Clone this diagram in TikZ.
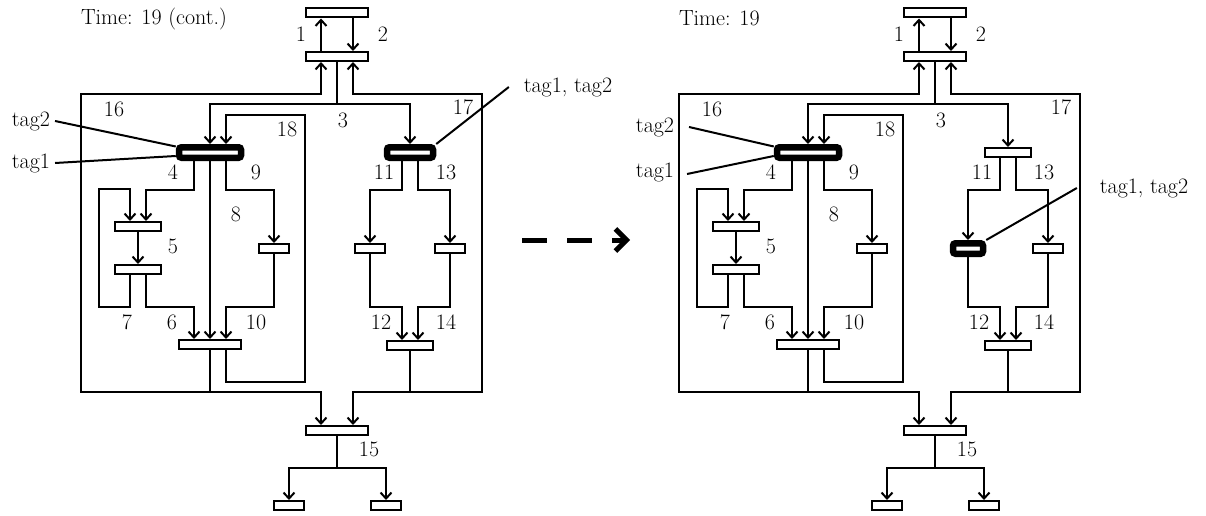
\documentclass[tikz,border=0pt]{standalone}
\usetikzlibrary{arrows.meta}
\begin{document}
\begin{tikzpicture}[
    x=1pt, y=-1pt,
    line width=2pt,
    every node/.style={font=\fontsize{22}{26}\selectfont},
    box/.style={draw,fill=white,line width=2pt,inner sep=0pt,minimum width=62pt,minimum height=9pt},
    midbox/.style={box,minimum width=46pt},
    smallbox/.style={box,minimum width=30pt},
    tagged/.style={line width=6.5pt,minimum height=10.5pt,rounded corners=2.5pt},
    untagged/.style={},
    lbl/.style={inner sep=0pt},
    tag/.style={inner sep=4pt},
    arr/.style={-{Straight Barb[length=6pt,width=11pt]}},
    twoway/.style={{Straight Barb[length=6pt,width=11pt]}-{Straight Barb[length=6pt,width=11pt]}},
    goarr/.style={-{Straight Barb[length=11pt,width=22pt]},line width=5pt,dash pattern=on 25pt off 20pt}
]
\useasboundingbox (0,0) rectangle (1206,516);
\foreach \p/\dx/\sa/\sb in {L/0/tagged/untagged,R/598/untagged/tagged}{
\begin{scope}[xshift=\dx pt]
\node[box] (\p-A) at (337,13) {};
\node[box] (\p-B) at (337,56.5) {};
\node[box,tagged] (\p-t4) at (210,152.5) {};
\node[midbox,\sa] (\p-t11) at (410,152.5) {};
\node[midbox] (\p-t5a) at (138,226.5) {};
\node[midbox] (\p-t5b) at (138,269.5) {};
\node[smallbox] (\p-t9) at (274,248.5) {};
\node[box] (\p-tj) at (210,344.5) {};
\node[smallbox,\sb] (\p-t11b) at (370,248.5) {};
\node[smallbox] (\p-t13b) at (450,248.5) {};
\node[midbox] (\p-tk) at (410,345.5) {};
\node[box] (\p-t15) at (337,430.5) {};
\node[smallbox] (\p-o1) at (289,505.5) {};
\node[smallbox] (\p-o2) at (386,505.5) {};
\node[lbl] (\p-n1) at (301,34) {1};
\node[lbl] (\p-n2) at (383,34) {2};
\node[lbl] (\p-n3) at (343,120) {3};
\node[lbl] (\p-n16) at (114,109) {16};
\node[lbl] (\p-n17) at (463,107) {17};
\node[lbl] (\p-n18) at (287,129) {18};
\node[lbl] (\p-n4) at (173,172) {4};
\node[lbl] (\p-n9) at (256,172) {9};
\node[lbl] (\p-n8) at (236,214) {8};
\node[lbl] (\p-n5) at (173,246) {5};
\node[lbl] (\p-n7) at (127,322) {7};
\node[lbl] (\p-n6) at (172,322) {6};
\node[lbl] (\p-n10) at (256,322) {10};
\node[lbl] (\p-n11) at (384,172) {11};
\node[lbl] (\p-n13) at (446,172) {13};
\node[lbl] (\p-n12) at (381,322) {12};
\node[lbl] (\p-n14) at (446,322) {14};
\node[lbl] (\p-n15) at (369,449) {15};
\draw[arr] ([xshift=-16pt]\p-B.north) -- ([xshift=-16pt]\p-A.south);
\draw[arr] ([xshift=16pt]\p-A.south) -- ([xshift=16pt]\p-B.north);
\coordinate (\p-c3) at (337,104);
\draw (\p-B.south) -- (\p-c3);
\draw[arr] (\p-c3) -| (\p-t4.north);
\draw[arr] (\p-c3) -| (\p-t11.north);
\draw[twoway] ([xshift=-16pt]\p-B.south) |- (81,94) -- (81,392) -| ([xshift=-16pt]\p-t15.north);
\draw[twoway] ([xshift=16pt]\p-B.south) |- (482,94) -- (482,392) -| ([xshift=16pt]\p-t15.north);
\draw (\p-tj.south) -- (210,392);
\draw (\p-tk.south) -- (410,392);
\draw[arr] ([xshift=16pt]\p-tj.south) |- (305,382) -- (305,115) -| ([xshift=16pt]\p-t4.north);
\draw[arr] ([xshift=-16pt]\p-t4.south) |- (170,190) -| ([xshift=8pt]\p-t5a.north);
\draw[arr] (\p-t4.south) -- (\p-tj.north);
\draw[arr] ([xshift=16pt]\p-t4.south) |- (250,190) -| (\p-t9.north);
\draw[arr] ([xshift=-8pt]\p-t5b.south) |- (99,307) -- (99,189) -| ([xshift=-8pt]\p-t5a.north);
\draw[arr] (\p-t5a.south) -- (\p-t5b.north);
\draw[arr] ([xshift=8pt]\p-t5b.south) |- (170,307) -| ([xshift=-16pt]\p-tj.north);
\draw[arr] (\p-t9.south) |- (250,307) -| ([xshift=16pt]\p-tj.north);
\draw[arr] ([xshift=-8pt]\p-t11.south) |- (390,190) -| (\p-t11b.north);
\draw[arr] ([xshift=8pt]\p-t11.south) |- (430,190) -| (\p-t13b.north);
\draw[arr] (\p-t11b.south) |- (390,307) -| ([xshift=-8pt]\p-tk.north);
\draw[arr] (\p-t13b.south) |- (430,307) -| ([xshift=8pt]\p-tk.north);
\coordinate (\p-c15) at (337,468);
\draw (\p-t15.south) -- (\p-c15);
\draw[arr] (\p-c15) -| (\p-o1.north);
\draw[arr] (\p-c15) -| (\p-o2.north);
\end{scope}
}
\node[lbl,anchor=west] (titleL) at (80,19) {Time: 19 (cont.)};
\node[lbl,anchor=west] (titleR) at (678,18) {Time: 19};
\node[tag] (tag2L) at (31,121) {tag2};
\node[tag] (tag1L) at (31,163) {tag1};
\node[tag] (tagsL) at (568,87) {tag1, tag2};
\node[tag] (tag2R) at (655,127) {tag2};
\node[tag] (tag1R) at (655,172) {tag1};
\node[tag] (tagsR) at (1144,188) {tag1, tag2};
\draw (tag2L.east) -- ([yshift=6pt]L-t4.west);
\draw (tag1L.east) -- ([yshift=-3.5pt]L-t4.west);
\draw ([xshift=-10pt]tagsL.west) -- (L-t11.north east);
\draw ([xshift=10pt]tag2R.east) -- ([yshift=6pt]R-t4.west);
\draw ([xshift=8pt,yshift=-2pt]tag1R.east) -- ([yshift=-3.5pt]R-t4.west);
\draw ([xshift=-18pt]tagsR.west) -- (R-t11b.north east);
\coordinate (go1) at (522,240);
\coordinate (go2) at (630,240);
\draw[goarr] (go1) -- (go2);
\end{tikzpicture}
\end{document}
